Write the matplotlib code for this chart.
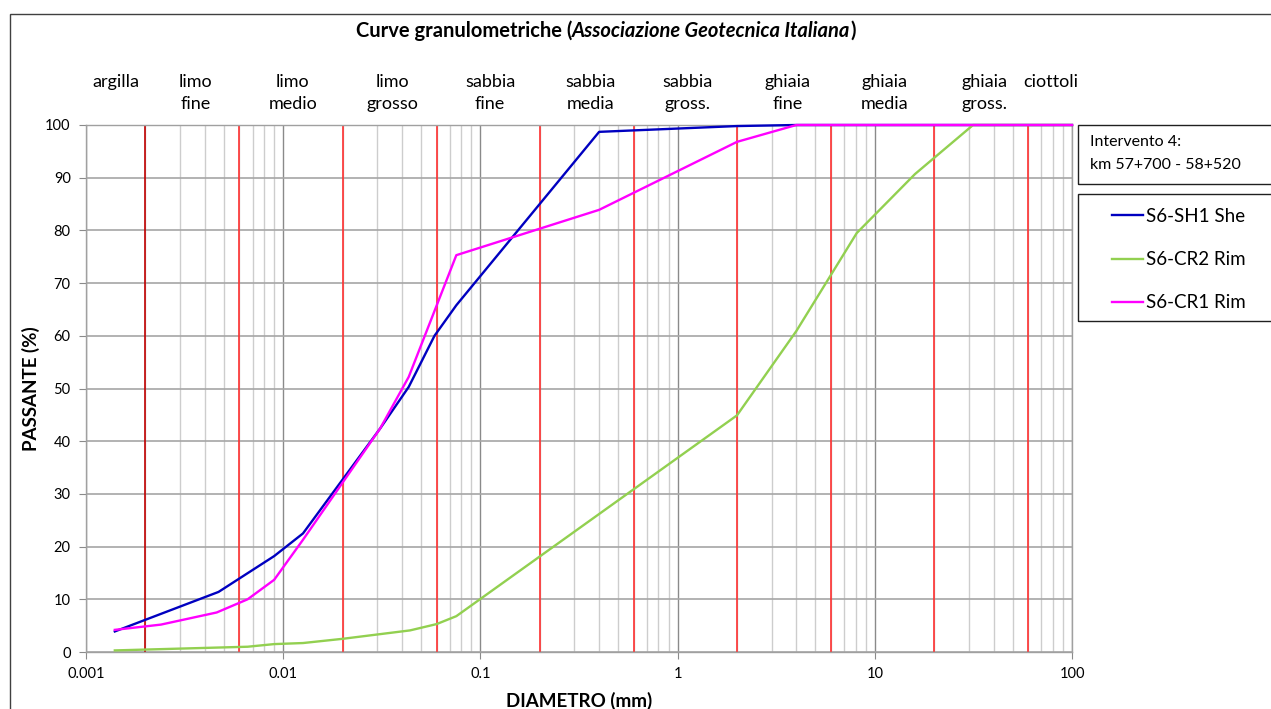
import numpy as np
import matplotlib.pyplot as plt
from matplotlib.patches import Rectangle
from matplotlib.ticker import FixedLocator, NullFormatter

plt.rcParams['font.family'] = ['Lato', 'DejaVu Sans']

# grain size (mm) and percent passing for each sample
d_sh1 = [0.0014, 0.0047, 0.009, 0.0126, 0.031, 0.0433, 0.0585, 0.0755, 0.40, 2.0, 4.0, 100]
p_sh1 = [3.9, 11.4, 18.2, 22.5, 42.4, 50.3, 60.0, 65.8, 98.7, 99.8, 100, 100]

d_cr2 = [0.0014, 0.0066, 0.009, 0.0126, 0.02, 0.044, 0.06, 0.0755, 2.0, 4.0, 8.1, 16.0, 31.5, 100]
p_cr2 = [0.3, 1.0, 1.5, 1.7, 2.5, 4.1, 5.3, 6.8, 44.9, 60.9, 79.5, 90.7, 100, 100]

d_cr1 = [0.0014, 0.0024, 0.0046, 0.0066, 0.009, 0.0126, 0.031, 0.0433, 0.0755, 0.40, 2.0, 4.0, 100]
p_cr1 = [4.2, 5.2, 7.5, 10.0, 13.7, 21.3, 42.4, 52.2, 75.3, 83.9, 96.8, 100, 100]

# AGI class limits (mm) and class names
limits = [0.002, 0.006, 0.02, 0.06, 0.2, 0.6, 2, 6, 20, 60]
class_pos = [0.00142, 0.0036, 0.0112, 0.036, 0.112, 0.36, 1.12, 3.6, 11.2, 36, 78]
class_names = ['argilla', 'limo\nfine', 'limo\nmedio', 'limo\ngrosso', 'sabbia\nfine',
               'sabbia\nmedia', 'sabbia\ngross.', 'ghiaia\nfine', 'ghiaia\nmedia',
               'ghiaia\ngross.', 'ciottoli']

xticks = [0.001, 0.01, 0.1, 1, 10, 100]
xtick_labels = ['0.001', '0.01', '0.1', '1', '10', '100']
yticks = list(range(0, 101, 10))

W, H = 1271, 709
fig = plt.figure(figsize=(W / 100, H / 100), dpi=100)
ax = fig.add_axes([86 / W, (H - 652) / H, (1072 - 86) / W, (652 - 125) / H])

ax.set_xscale('log')
ax.set_xlim(0.001, 100)
ax.set_ylim(0, 100)

ax.xaxis.set_major_locator(FixedLocator(xticks))
ax.set_xticklabels(xtick_labels)
minor = [m * 10.0 ** e for e in range(-3, 2) for m in range(2, 10)]
ax.xaxis.set_minor_locator(FixedLocator(minor))
ax.xaxis.set_minor_formatter(NullFormatter())
ax.set_yticks(yticks)

ax.grid(which='minor', axis='x', color='#cdcdcd', lw=1.0)
ax.grid(which='major', axis='x', color='#8a8a8a', lw=1.0)
ax.grid(which='major', axis='y', color='#a6a6a6', lw=1.2)
ax.set_axisbelow(True)

for s in ax.spines.values():
    s.set_color('#a0a0a0')
    s.set_linewidth(1.0)
ax.tick_params(axis='both', which='major', length=5, color='#8a8a8a',
               labelsize=10.5, pad=6)
ax.tick_params(axis='x', which='minor', length=0)

for i, lim in enumerate(limits):
    ax.axvline(lim, color='#c00000' if i == 0 else '#ff3030', lw=1.2, zorder=1.5)

ax.plot(d_sh1, p_sh1, color='#0000c0', lw=1.7, label='S6-SH1 She', clip_on=False, zorder=3)
ax.plot(d_cr2, p_cr2, color='#92d050', lw=1.7, label='S6-CR2 Rim', clip_on=False, zorder=3)
ax.plot(d_cr1, p_cr1, color='#ff00ff', lw=1.7, label='S6-CR1 Rim', clip_on=False, zorder=3)

for x, name in zip(class_pos, class_names):
    ax.text(x, 1.0 + 51 / 527, name, transform=ax.get_xaxis_transform(),
            ha='center', va='top', fontsize=13, linespacing=1.45)

ax.set_ylabel('PASSANTE (%)', fontsize=13.5, fontweight='bold')
ax.set_xlabel('DIAMETRO (mm)', fontsize=13.5, fontweight='bold', labelpad=8)
ax.yaxis.set_label_coords(-46 / 986, 0.5)

# title with italic part
title_parts = [('Curve granulometriche (', 'normal'),
               ('Associazione Geotecnica Italiana', 'italic'),
               (')', 'normal')]
title_txt = [fig.text(0, 1 - 31 / H, s, fontsize=14.5, fontweight='bold', style=st,
                      va='center') for s, st in title_parts]
fig.canvas.draw()
r = fig.canvas.get_renderer()
widths = [t.get_window_extent(r).width for t in title_txt]
x0 = 606 - sum(widths) / 2
for t, w in zip(title_txt, widths):
    t.set_x(x0 / W)
    x0 += w

# outer chart frame
fig.patches.append(Rectangle((10 / W, -0.1), 1.2, 1 - 14 / H + 0.1, transform=fig.transFigure,
                             fill=False, edgecolor='#404040', lw=1.0))

# info box
fig.patches.append(Rectangle((1078 / W, 1 - 184 / H), 0.2, 59 / H, transform=fig.transFigure,
                             fill=False, edgecolor='#202020', lw=1.0))
fig.text(1090 / W, 1 - 142 / H, 'Intervento 4:', fontsize=11.5, va='center')
fig.text(1090 / W, 1 - 165 / H, 'km 57+700 - 58+520', fontsize=11.5, va='center')

# legend box
fig.patches.append(Rectangle((1078 / W, 1 - 321 / H), 0.2, 127 / H, transform=fig.transFigure,
                             fill=False, edgecolor='#202020', lw=1.0))
leg = fig.legend(loc='upper left', bbox_to_anchor=(1112 / W, 1 - 208 / H),
                 borderaxespad=0, borderpad=0, fontsize=13.5, frameon=False,
                 handlelength=1.65, handletextpad=0.15, labelspacing=1.4)

fig.savefig('out.png', dpi=100)
